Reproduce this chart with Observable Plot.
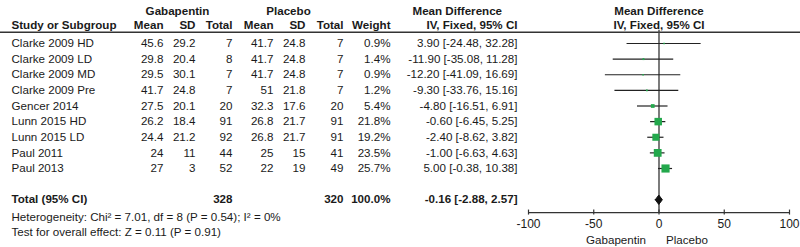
<!DOCTYPE html>
<html><head><meta charset="utf-8">
<script src="https://cdn.jsdelivr.net/npm/d3@7"></script>
<script src="https://cdn.jsdelivr.net/npm/@observablehq/plot@0.6"></script>
<style>body{margin:0;background:#fff;} svg{display:block;}</style>
</head><body><div id="chart"></div>
<script>
// ---- data ----
const studies = ["Clarke 2009 HD","Clarke 2009 LD","Clarke 2009 MD","Clarke 2009 Pre","Gencer 2014","Lunn 2015 HD","Lunn 2015 LD","Paul 2011","Paul 2013"];
const gabMean = [45.6,29.8,29.5,41.7,27.5,26.2,24.4,24,27];
const gabSD   = [29.2,20.4,30.1,24.8,20.1,18.4,21.2,11,3];
const gabN    = [7,8,7,7,20,91,92,44,52];
const plaMean = [41.7,41.7,41.7,51,32.3,26.8,26.8,25,22];
const plaSD   = [24.8,24.8,24.8,21.8,17.6,21.7,21.7,15,19];
const plaN    = [7,7,7,7,20,91,91,41,49];
const weight  = [0.9,1.4,0.9,1.2,5.4,21.8,19.2,23.5,25.7];
const md      = [3.90,-11.90,-12.20,-9.30,-4.80,-0.60,-2.40,-1.00,5.00];
const ciLo    = [-24.48,-35.08,-41.09,-33.76,-16.51,-6.45,-8.62,-6.63,-0.38];
const ciHi    = [32.28,11.28,16.69,15.16,6.91,5.25,3.82,4.63,10.38];
const totalGabN = 328, totalPlaN = 320, totalWeight = 100.0;
const totalMD = -0.16, totalLo = -2.88, totalHi = 2.57;
const heterogeneityText = "Heterogeneity: Chi\u00B2 = 7.01, df = 8 (P = 0.54); I\u00B2 = 0%";
const overallText = "Test for overall effect: Z = 0.11 (P = 0.91)";
const axisTicks = [-100,-50,0,50,100];
const favoursLeft = "Gabapentin", favoursRight = "Placebo";

// ---- layout (row units) ----
const L = {head1:-2.05, head2:-1.15, rule:-0.72, zeroTop:-0.85, total:10, axis:10.82, tickTop:10.66, tickBot:10.98, tickLab:11.55, het:11.14, test:12.1, fav:12.6};

const rows = studies.map((s,i)=>({row:i, study:s, gm:gabMean[i], gs:gabSD[i], gn:gabN[i], pm:plaMean[i], ps:plaSD[i], pn:plaN[i], w:weight[i], md:md[i], lo:ciLo[i], hi:ciHi[i]}));
const fmtMD = (m,l,h)=>`${m.toFixed(2)} [${l.toFixed(2)}, ${h.toFixed(2)}]`;

const cols = [
  {x:11,  anchor:"start", head:"Study or Subgroup", f:d=>d.study},
  {x:163, anchor:"end", head:"Mean", f:d=>String(d.gm)},
  {x:195, anchor:"end", head:"SD", f:d=>String(d.gs)},
  {x:232, anchor:"end", head:"Total", f:d=>String(d.gn)},
  {x:273, anchor:"end", head:"Mean", f:d=>String(d.pm)},
  {x:305, anchor:"end", head:"SD", f:d=>String(d.ps)},
  {x:343, anchor:"end", head:"Total", f:d=>String(d.pn)},
  {x:390, anchor:"end", head:"Weight", f:d=>d.w.toFixed(1)+"%"},
  {x:517, anchor:"end", head:"IV, Fixed, 95% CI", f:d=>fmtMD(d.md,d.lo,d.hi)}
];
const totalCells = [
  {x:11, anchor:"start", t:"Total (95% CI)"},
  {x:232, anchor:"end", t:String(totalGabN)},
  {x:343, anchor:"end", t:String(totalPlaN)},
  {x:390, anchor:"end", t:totalWeight.toFixed(1)+"%"},
  {x:517, anchor:"end", t:fmtMD(totalMD,totalLo,totalHi)}
];

const ink = "#1a1a1a", green = "#23a84c";
const marks = [];
// table body
for (const c of cols) {
  marks.push(Plot.text(rows, {y:"row", text:c.f, frameAnchor:"left", dx:c.x, textAnchor:c.anchor, fill:ink}));
  marks.push(Plot.text([c.head], {y:()=>L.head2, text:d=>d, frameAnchor:"left", dx:c.x, textAnchor:c.anchor, fontWeight:"bold", fill:ink}));
}
for (const c of totalCells) {
  marks.push(Plot.text([c.t], {y:()=>L.total, text:d=>d, frameAnchor:"left", dx:c.x, textAnchor:c.anchor, fontWeight:"bold", fill:ink}));
}
marks.push(Plot.text(["Gabapentin"], {y:()=>L.head1, text:d=>d, frameAnchor:"left", dx:177, textAnchor:"middle", fontWeight:"bold", fill:ink}));
marks.push(Plot.text(["Placebo"], {y:()=>L.head1, text:d=>d, frameAnchor:"left", dx:288, textAnchor:"middle", fontWeight:"bold", fill:ink}));
marks.push(Plot.text(["Mean Difference"], {y:()=>L.head1, text:d=>d, frameAnchor:"left", dx:412, textAnchor:"start", fontWeight:"bold", fill:ink}));
marks.push(Plot.text(["Mean Difference"], {y:()=>L.head1, x:()=>0, text:d=>d, textAnchor:"middle", fontWeight:"bold", fill:ink}));
marks.push(Plot.text(["IV, Fixed, 95% CI"], {y:()=>L.head2, x:()=>0, text:d=>d, textAnchor:"middle", fontWeight:"bold", fill:ink}));
marks.push(Plot.text([heterogeneityText], {y:()=>L.het, text:d=>d, frameAnchor:"left", dx:11, textAnchor:"start", fill:ink}));
marks.push(Plot.text([overallText], {y:()=>L.test, text:d=>d, frameAnchor:"left", dx:11, textAnchor:"start", fill:ink}));
// header rule
marks.push(Plot.ruleY([L.rule], {y:d=>d, stroke:"#333", strokeWidth:1.5}));
// zero line
marks.push(Plot.ruleX([0], {x:d=>d, y1:()=>L.zeroTop, y2:()=>L.axis, stroke:"#444", strokeWidth:1.4}));
// CIs and squares
marks.push(Plot.ruleY(rows, {y:"row", x1:"lo", x2:"hi", stroke:"#222", strokeWidth:1.2}));
marks.push(Plot.dot(rows, {x:"md", y:"row", r:"w", symbol:"square", fill:green, stroke:null}));
// diamond
const dh = 0.3;
marks.push(Plot.line([
  {x:totalLo, y:L.total},{x:totalMD, y:L.total-dh},{x:totalHi, y:L.total},{x:totalMD, y:L.total+dh},{x:totalLo, y:L.total}
], {x:"x", y:"y", fill:"#111", stroke:"#111", strokeWidth:1}));
// axis
marks.push(Plot.ruleY([L.axis], {y:d=>d, x1:()=>axisTicks[0], x2:()=>axisTicks[axisTicks.length-1], stroke:"#333", strokeWidth:1.2}));
marks.push(Plot.ruleX(axisTicks, {x:d=>d, y1:()=>L.tickTop, y2:()=>L.tickBot, stroke:"#333", strokeWidth:1.2}));
marks.push(Plot.text(axisTicks, {x:d=>d, y:()=>L.tickLab, text:d=>String(d), fill:ink, fontSize:12}));
marks.push(Plot.text([favoursLeft], {x:()=>0, y:()=>L.fav, text:d=>d, textAnchor:"end", dx:-13, fill:ink}));
marks.push(Plot.text([favoursRight], {x:()=>0, y:()=>L.fav, text:d=>d, textAnchor:"start", dx:7, fill:ink}));

const chart = Plot.plot({
  width:800, height:247,
  marginLeft:0, marginRight:0, marginTop:0, marginBottom:0,
  x:{domain:[-100,100], range:[528,789], axis:null},
  y:{domain:[0,8], range:[43,168], axis:null},
  r:{range:[0,4.6]},
  style:{fontFamily:"'Liberation Sans', Arial, sans-serif", fontSize:"11.6px", background:"#fff", color:ink, overflow:"visible"},
  marks
});
document.getElementById("chart").appendChild(chart);
</script></body></html>
